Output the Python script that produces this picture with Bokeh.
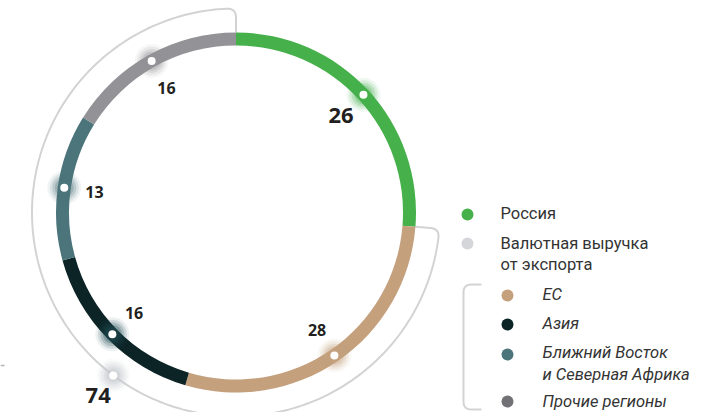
import numpy as np
from bokeh.plotting import figure
from bokeh.models import Range1d
from bokeh.embed import file_html
from bokeh.resources import INLINE
from bokeh.core.properties import value

# ---- data ----
categories = ["Россия", "ЕС", "Азия", "Ближний Восток и Северная Африка", "Прочие регионы"]
shares = [26, 28, 16, 13, 16]
share_labels = ["26", "28", "16", "13", "16"]
export_total = 74
export_label = "74"
ring_colors = ["#46b14b", "#c4a07d", "#0d2427", "#4b757b", "#939397"]
glow_colors = ["#46b14b", "#c4a07d", "#1d4a52", "#4b757b", "#939397"]
legend_top_labels = ["Россия", "Валютная выручка\nот экспорта"]
legend_top_colors = ["#46b14b", "#d5d6d9"]
legend_sub_labels = ["ЕС", "Азия", "Ближний Восток\nи Северная Африка", "Прочие регионы"]
legend_sub_colors = ["#c4a07d", "#0d2427", "#4b757b", "#717176"]

# ---- layout (picture pixel coords -> data coords: x = px, y = 420 - py) ----
W, H = 720, 412
def Y(py):
    return 420 - py

cx, cy = 235.5, Y(212)
R_RING = 173.5
RING_W = 13
R_OUT = 204
R_LABEL = 143
LEG_FONT = "16.5px"

p = figure(width=W, height=H, x_range=Range1d(0, W), y_range=Range1d(Y(H), 420),
           output_backend="svg", toolbar_location=None, min_border=0)
p.axis.visible = False
p.grid.visible = False
p.outline_line_color = None
p.background_fill_color = "white"
p.border_fill_color = "white"

total = sum(shares)
cum = np.concatenate([[0], np.cumsum(shares)]) / total * 360.0
starts, ends = cum[:-1], cum[1:]
mids = (starts + ends) / 2

def polar(r, theta_deg):
    t = np.radians(theta_deg)
    return cx + r * np.sin(t), cy + r * np.cos(t)

# outer bracket arc (export part)
ta, tb = ends[0], 360.0
c = 9.0
d = np.degrees(c / R_OUT)
pts = []
def add(r, t):
    pts.append(polar(r, t))
add(R_RING + RING_W / 2, ta)
add(R_OUT - c, ta)
for s in np.linspace(0, 1, 10):
    P0 = np.array(polar(R_OUT - c, ta)); P1 = np.array(polar(R_OUT, ta)); P2 = np.array(polar(R_OUT, ta + d))
    q = (1 - s) ** 2 * P0 + 2 * (1 - s) * s * P1 + s ** 2 * P2
    pts.append(tuple(q))
for t in np.linspace(ta + d, tb - d, 200):
    add(R_OUT, t)
for s in np.linspace(0, 1, 10):
    P0 = np.array(polar(R_OUT, tb - d)); P1 = np.array(polar(R_OUT, tb)); P2 = np.array(polar(R_OUT - c, tb))
    q = (1 - s) ** 2 * P0 + 2 * (1 - s) * s * P1 + s ** 2 * P2
    pts.append(tuple(q))
add(R_RING + RING_W / 2, tb)
p.line([q[0] for q in pts], [q[1] for q in pts], line_color="#d3d3d5", line_width=2)

# small stray tick at the left edge
p.line([0, 4], [Y(365), Y(365)], line_color="#b5b5b8", line_width=1.5)

# ring segments
for s0, s1, col in zip(starts, ends, ring_colors):
    p.annular_wedge(x=cx, y=cy, inner_radius=R_RING - RING_W / 2, outer_radius=R_RING + RING_W / 2,
                    start_angle=90 - s0, end_angle=90 - s1, start_angle_units="deg",
                    end_angle_units="deg", direction="clock",
                    fill_color=col, line_color=None)

def glow_dot(x, y, col):
    for sz, a in [(34, 0.08), (29, 0.14), (24, 0.2), (19, 0.28), (14, 0.38)]:
        p.scatter([x], [y], size=sz, fill_color=col, fill_alpha=a, line_color=None)
    p.scatter([x], [y], size=8, fill_color="white", line_color=None)

for m, col in zip(mids, glow_colors):
    x, y = polar(R_RING, m)
    glow_dot(x, y, col)

# export dot and label
EXPORT_ANGLE = 217
ex, ey = polar(R_OUT, EXPORT_ANGLE)
glow_dot(ex, ey, "#c4c8cd")
lx, ly = polar(229, EXPORT_ANGLE)
p.text([lx], [ly], text=[export_label], text_font=value("Open Sans"), text_font_style="bold",
       text_font_size="22px", text_color="#231f20", text_align="center", text_baseline="middle")

# share labels
for i, (m, lab) in enumerate(zip(mids, share_labels)):
    x, y = polar(R_LABEL, m)
    size = "22px" if i == 0 else "16px"
    p.text([x], [y], text=[lab], text_font=value("Open Sans"), text_font_style="bold",
           text_font_size=size, text_color="#231f20", text_align="center", text_baseline="middle")

# legend
top_dot_y = [214, 243]
top_text_y = [[213], [243, 264]]
for lab, col, dy, tys in zip(legend_top_labels, legend_top_colors, top_dot_y, top_text_y):
    p.scatter([467], [Y(dy)], size=12, fill_color=col, line_color=None)
    for line, ty in zip(lab.split("\n"), tys):
        p.text([500], [Y(ty)], text=[line], text_font=value("Roboto"), text_font_size=LEG_FONT,
               text_color="#333333", text_align="left", text_baseline="middle")

sub_dot_y = [295, 324, 354, 401]
sub_text_y = [[294], [323], [352, 374], [401]]
for lab, col, dy, tys in zip(legend_sub_labels, legend_sub_colors, sub_dot_y, sub_text_y):
    p.scatter([507], [Y(dy)], size=12, fill_color=col, line_color=None)
    for line, ty in zip(lab.split("\n"), tys):
        p.text([542], [Y(ty)], text=[line], text_font=value("Roboto"), text_font_size=LEG_FONT,
               text_font_style="italic", text_color="#333333", text_align="left", text_baseline="middle")

# legend bracket
bx, by0, by1, bx1, rc = 463, 284, 409, 481, 8
bpts = [(bx1, Y(by0)), (bx + rc, Y(by0))]
for s in np.linspace(0, 1, 8):
    P0 = np.array([bx + rc, Y(by0)]); P1 = np.array([bx, Y(by0)]); P2 = np.array([bx, Y(by0 + rc)])
    bpts.append(tuple((1 - s) ** 2 * P0 + 2 * (1 - s) * s * P1 + s ** 2 * P2))
bpts.append((bx, Y(by1 - rc)))
for s in np.linspace(0, 1, 8):
    P0 = np.array([bx, Y(by1 - rc)]); P1 = np.array([bx, Y(by1)]); P2 = np.array([bx + rc, Y(by1)])
    bpts.append(tuple((1 - s) ** 2 * P0 + 2 * (1 - s) * s * P1 + s ** 2 * P2))
bpts.append((bx1, Y(by1)))
p.line([q[0] for q in bpts], [q[1] for q in bpts], line_color="#d3d3d5", line_width=2)

open("out.html", "w").write(file_html(p, INLINE))
